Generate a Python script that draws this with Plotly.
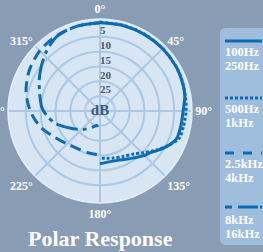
import plotly.graph_objects as go

# ---------------- data (attenuation in dB) ----------------
theta_right_solid = [0, 15, 30, 45, 60, 70, 80, 90, 100, 110, 120, 129, 137, 144, 150, 160, 170, 180]
db_100_250 = [0.3, 0.2, 0.2, 0.2, 0.3, 0.6, 1.0, 2.0, 2.3, 2.6, 5.1, 7.8, 9.2, 10.5, 11.3, 12.3, 12.6, 12.2]

theta_right_dot = [0, 15, 30, 45, 60, 70, 80, 90, 100, 109, 117, 126, 134, 142, 153, 164, 172, 180]
db_500_1k = [0.1, 0.1, 0.1, 0.2, 0.3, 0.5, 0.8, 1.0, 1.4, 1.8, 4.3, 7.3, 9.8, 11.6, 12.8, 13.5, 13.9, 14.1]

theta_left_dash = [360, 345, 330, 315, 300, 285, 270, 255, 240, 225, 210, 195, 180]
db_2k5_4k = [0.3, 0.4, 0.7, 1.3, 2.5, 4.2, 6.5, 9.2, 12.3, 14.3, 15.3, 15.4, 15.2]

theta_left_dashdot = [360, 345, 330, 318, 308, 297, 285, 274, 265, 254, 242, 231, 221, 205, 193, 188]
db_8k_16k = [0.3, 0.4, 1.0, 3.0, 5.0, 7.0, 9.0, 10.3, 12.0, 14.5, 18.0, 20.2, 21.8, 24.0, 25.0, 24.6]

angle_ticks = [0, 45, 90, 135, 180, 225, 270, 315]
angle_labels = ["0°", "45°", "90°", "135°", "180°", "225°", "270°", "315°"]
db_rings = [5, 10, 15, 20, 25]
db_ring_labels = ["5", "10", "15", "20", "25"]

legend_lines = [["100Hz", "250Hz"], ["500Hz", "1kHz"], ["2.5kHz", "4kHz"], ["8kHz", "16kHz"]]

R0 = 30  # 0 dB sits on the outer ring


def to_r(values):
    return [R0 - v for v in values]


BG = "#889db4"
POLAR_BG = "#d8e6f4"
GRID = "#acc8e4"
LINE = "#0b6cb5"
LABEL_DARK = "#3f5a7b"
FONT = "Liberation Serif"

series = [
    (theta_right_solid, db_100_250, "solid"),
    (theta_right_dot, db_500_1k, "3px,2px"),
    (theta_left_dash, db_2k5_4k, "11px,6px"),
    (theta_left_dashdot, db_8k_16k, "22px,5px,4px,5px"),
]
legend_dash = ["solid", "3px,2px", "9px,9px", "7px,6px,20px,2px"]

fig = go.Figure()
for (th, db, dash), names in zip(series, legend_lines):
    fig.add_trace(go.Scatterpolar(
        theta=th, r=to_r(db), mode="lines", name=" ".join(names),
        line=dict(color=LINE, width=3, dash=dash, shape="spline", smoothing=0.8),
        hoverinfo="skip", showlegend=False,
    ))

# radial ring labels
fig.add_trace(go.Scatterpolar(
    theta=[0] * len(db_rings), r=to_r(db_rings), mode="text",
    text=db_ring_labels, textposition="top right",
    textfont=dict(family=FONT, size=11, color=LABEL_DARK, weight="bold"),
    hoverinfo="skip", showlegend=False,
))
fig.add_trace(go.Scatterpolar(
    theta=[0], r=[0], mode="text", text=["dB"], textposition="middle center",
    textfont=dict(family=FONT, size=15, color=LABEL_DARK, weight="bold"),
    hoverinfo="skip", showlegend=False,
))

W, H = 263, 252
cx, cy, rad = 100, 111, 92

fig.update_layout(
    width=W, height=H,
    margin=dict(l=0, r=0, t=0, b=0),
    paper_bgcolor=BG, plot_bgcolor=BG,
    showlegend=False,
    polar=dict(
        domain=dict(x=[(cx - rad) / W, (cx + rad) / W],
                    y=[1 - (cy + rad) / H, 1 - (cy - rad) / H]),
        bgcolor=POLAR_BG,
        radialaxis=dict(range=[0, 31], tickvals=to_r(db_rings), showticklabels=False,
                        ticks="", showline=False, gridcolor=GRID, gridwidth=1.5),
        angularaxis=dict(rotation=90, direction="clockwise",
                         tickvals=angle_ticks, ticktext=angle_labels, ticks="",
                         showgrid=True, gridcolor=GRID, gridwidth=1.5,
                         showline=True, linecolor="#e4eef8", linewidth=1.5,
                         tickfont=dict(family=FONT, size=12, color="white", weight="bold")),
    ),
)

# title
fig.add_annotation(text="Polar Response", x=cx / W, y=1 - 238 / H, xref="paper", yref="paper",
                   showarrow=False, xanchor="center", yanchor="middle",
                   font=dict(family=FONT, size=22, color="white", weight="bold"))

# legend panel (rounded left corners)
x0, x1, yt, yb, rr = 220 / W, 1.05, 1 - 28 / H, 1 - 245 / H, 6
rx, ry = rr / W, rr / H
panel = (f"M {x0 + rx},{yt} L {x1},{yt} L {x1},{yb} L {x0 + rx},{yb} "
         f"Q {x0},{yb} {x0},{yb + ry} L {x0},{yt - ry} Q {x0},{yt} {x0 + rx},{yt} Z")
fig.add_shape(type="path", xref="paper", yref="paper", path=panel,
              fillcolor="#9fbddc", line=dict(width=0), layer="below")

sample_y = [41, 98, 153, 207]
text_y = [(52, 65), (108, 122), (163, 177), (219, 233)]
for dash, sy, (ty1, ty2), names in zip(legend_dash, sample_y, text_y, legend_lines):
    fig.add_shape(type="line", xref="paper", yref="paper",
                  x0=225 / W, x1=262 / W, y0=1 - sy / H, y1=1 - sy / H,
                  line=dict(color=LINE, width=3, dash=dash))
    for t, yy in zip(names, (ty1, ty2)):
        fig.add_annotation(text=t, x=224 / W, y=1 - yy / H, xref="paper", yref="paper",
                           showarrow=False, xanchor="left", yanchor="middle",
                           height=13, valign="middle", borderpad=0,
                           font=dict(family=FONT, size=12.5, color="white", weight="bold"))

fig.write_html(
    "out.html",
    config={"displayModeBar": False},
    post_script="document.body.style.margin='0';document.body.style.overflow='hidden';",
)
